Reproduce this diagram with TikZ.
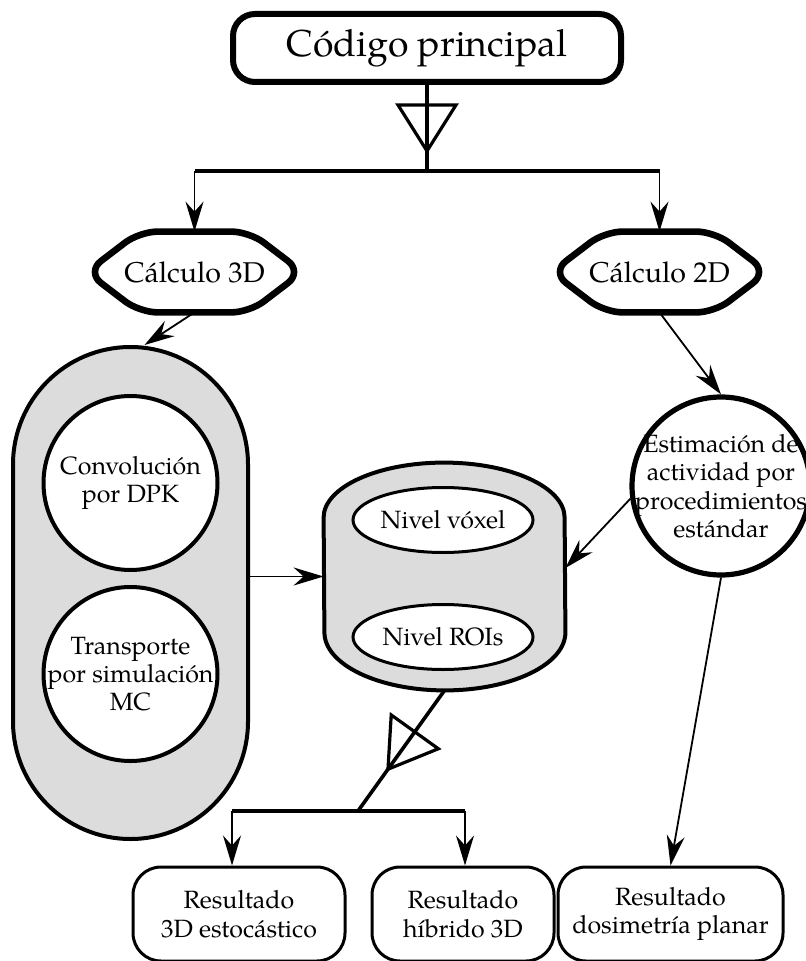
\documentclass[tikz,border=0pt]{standalone}
\usepackage{fontspec}
\setmainfont{TeX Gyre Pagella}
\usetikzlibrary{arrows.meta,calc,decorations.markings,shapes.geometric}

\definecolor{shade}{RGB}{220,220,220}

\begin{document}
\begin{tikzpicture}[x=0.5pt,y=-0.5pt,
  >={Stealth[length=15pt,width=9pt,inset=5pt]},
  txt/.style={font=\fontsize{12.5}{14.2}\selectfont, align=center},
  startbox/.style={draw, line width=3pt, rounded corners=11pt,
    minimum width=194pt, minimum height=34pt, inner sep=0pt,
    font=\fontsize{18.7}{22}\selectfont},
  hexbox/.style={inner sep=0pt, minimum width=107.5pt, minimum height=40pt,
    font=\fontsize{14.3}{17}\selectfont},
  hexline/.style={line width=3.3pt, rounded corners=9pt, line join=round},
  capsule/.style={draw, fill=shade, line width=2pt, rounded corners=58.75pt,
    minimum width=117.5pt, minimum height=246pt, inner sep=0pt},
  method/.style={circle, draw, fill=white, line width=2pt,
    minimum size=87pt, inner sep=0pt},
  levelnode/.style={ellipse, draw, fill=white, line width=1.5pt,
    minimum width=90pt, minimum height=32.5pt, inner sep=0pt, txt},
  cylbox/.style={inner sep=0pt, minimum width=120.5pt, minimum height=113.5pt},
  estnode/.style={circle, draw, line width=2.6pt, minimum size=89pt, inner sep=0pt},
  resbox/.style={draw, line width=1.5pt, rounded corners=14pt,
    minimum height=47pt, inner sep=0pt, txt},
  link/.style={->, line width=0.9pt},
  trunk/.style={line width=1.8pt},
  merge at/.style={postaction={decorate}, decoration={markings,
    mark=at position #1 with {\draw[line width=1.6pt, line join=miter]
      (0,0) -- (-23pt,14.5pt) -- (-23pt,-14.5pt) -- cycle;}}}
]
\useasboundingbox (0,0) rectangle (805,961);

% main program
\node[startbox] (code) at (427,48) {Código principal};

% 3D and 2D branches
\node[hexbox] (c3d) at (194.5,272) {Cálculo 3D};
\node[hexbox] (c2d) at (659.5,272) {Cálculo 2D};
\foreach \h in {c3d,c2d}
  \draw[hexline] (\h.west) -- ([xshift=26.5pt]\h.north west)
    -- ([xshift=-26.5pt]\h.north east) -- (\h.east)
    -- ([xshift=-26.5pt]\h.south east) -- ([xshift=26.5pt]\h.south west) -- cycle;

% 3D methods
\node[capsule] (caps) at (130.5,593) {};
\node[method, label={[txt]center:Convolución\\por DPK}] (dpk) at (130.5,483) {};
\node[method, label={[txt]center:Transporte\\por simulación\\MC}] (mc) at (130.5,674) {};

% result levels
\node[cylbox] (cyl) at (444.5,576.5) {};
\draw[line width=2pt, fill=shade]
  ([yshift=-27.5pt]cyl.north west)
    arc[start angle=180, end angle=0, x radius=60.25pt, y radius=27.5pt]
  -- ([yshift=29pt]cyl.south east)
    arc[start angle=0, end angle=-180, x radius=60.25pt, y radius=29pt]
  -- cycle;
\node[levelnode] (vox) at (443,520) {Nivel vóxel};
\node[levelnode] (roi) at (443,637) {Nivel ROIs};

% planar activity estimation
\node[estnode, label={[txt]center:Estimación de\\actividad por\\procedimientos\\estándar}] (est) at (721,486) {};

% outputs
\node[resbox, minimum width=106pt] (r3d) at (239,914) {Resultado\\3D estocástico};
\node[resbox, minimum width=91pt] (rhy) at (463,914) {Resultado\\híbrido 3D};
\node[resbox, minimum width=112.5pt] (rpl) at (670.5,914) {Resultado\\dosimetría planar};

% connectors
\coordinate (split1) at (427,171);
\draw[trunk, merge at=33pt] (code.south) -- (split1);
\draw[trunk] (c3d.north |- split1) -- (c2d.north |- split1);
\draw[link] (c3d.north |- split1) -- (c3d.north);
\draw[link] (c2d.north |- split1) -- (c2d.north);

\draw[link] (c3d.south) -- ([xshift=7pt]caps.north);
\draw[link] (caps.east |- cyl.west) -- (cyl.west);
\draw[link] (c2d.south) -- (est.north);
\draw[link] (est.188) -- ([yshift=4.25pt]cyl.east);
\draw[link] (est.south) -- (rpl.north);

\coordinate (split2) at (358,811);
\coordinate (j1) at (232,811);
\coordinate (j2) at (465,811);
\draw[trunk, merge at=48.5pt] (cyl.south) -- (split2);
\draw[trunk] (j1) -- (j2);
\draw[link] (j1) -- (j1 |- r3d.north);
\draw[link] (j2) -- (j2 |- rhy.north);
\end{tikzpicture}
\end{document}
